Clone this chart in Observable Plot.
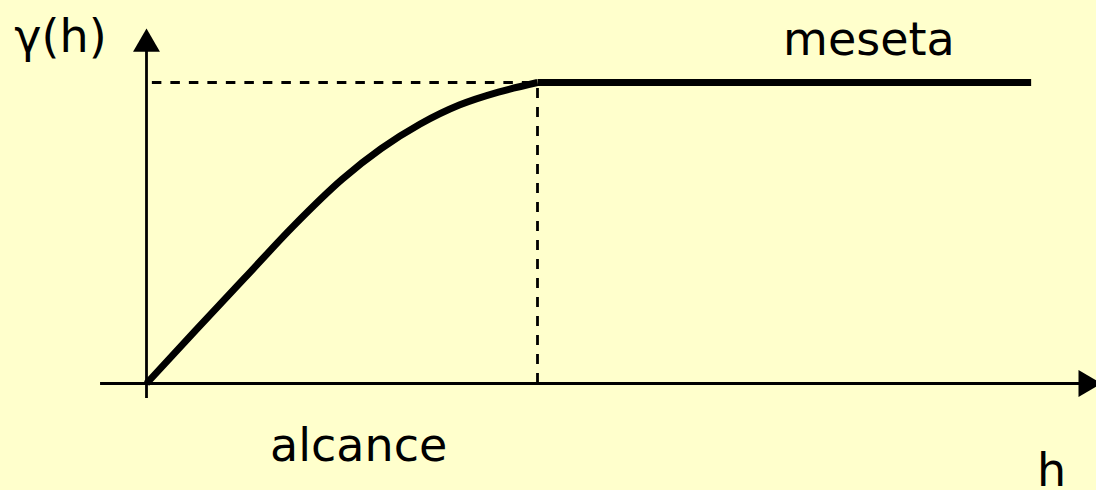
<!DOCTYPE html>
<html>
<head>
<meta charset="utf-8">
<script src="https://cdn.jsdelivr.net/npm/d3@7"></script>
<script src="https://cdn.jsdelivr.net/npm/@observablehq/plot@0.6"></script>
<style>
  html, body { margin: 0; padding: 0; background: #FFFFCC; }
  #chart { width: 1096px; height: 490px; overflow: hidden; }
</style>
</head>
<body>
<div id="chart"></div>
<script>
// Variogram curve (lag h, semivariance γ)
const lag = [0, 0.5, 1, 1.5, 2, 2.4, 2.8, 3.2, 3.6, 4, 9.05];
const gamma = [0, 0.176, 0.349, 0.522, 0.678, 0.78, 0.862, 0.925, 0.968, 1, 1];
const range = 4;     // alcance
const sill = 1;      // meseta
const labels = ["γ(h)", "meseta", "alcance", "h"];

const curve = lag.map((h, i) => ({h, g: gamma[i]}));
const rising = curve.filter(d => d.h <= range);
const plateau = curve.filter(d => d.h >= range);
const font = "DejaVu Sans, sans-serif";

const chart = Plot.plot({
  width: 1096,
  height: 490,
  margin: 0,
  style: {background: "#FFFFCC", fontFamily: font, overflow: "hidden"},
  x: {domain: [0, range], range: [146, 537], axis: null},
  y: {domain: [0, sill], range: [383, 82], axis: null},
  marks: [
    // axes
    Plot.ruleY([0], {x1: -0.47, x2: 9.55, stroke: "black", strokeWidth: 3}),
    Plot.ruleX([0], {y1: -0.05, y2: 1.11, stroke: "black", strokeWidth: 2.8}),
    Plot.dot([{h: 0, g: 1.128}], {x: "h", y: "g", symbol: "triangle", r: 10, fill: "black", stroke: "none"}),
    Plot.dot([{h: 9.614, g: 0}], {x: "h", y: "g", symbol: "triangle", r: 10, rotate: 90, fill: "black", stroke: "none"}),
    // dashed guides
    Plot.ruleY([sill], {x1: 0.06, x2: range, stroke: "black", strokeWidth: 2.8, strokeDasharray: "9.5,9"}),
    Plot.ruleX([range], {y1: 0, y2: sill, stroke: "black", strokeWidth: 2.8, strokeDasharray: "10,9"}),
    // variogram
    Plot.line(rising, {x: "h", y: "g", curve: "monotone-x", stroke: "black", strokeWidth: 7, strokeLinecap: "butt", strokeLinejoin: "round"}),
    Plot.line(plateau, {x: "h", y: "g", stroke: "black", strokeWidth: 7, strokeLinecap: "butt"}),
    // labels
    Plot.text([labels[0]], {x: -0.88, y: 1.10, text: d => d, fontSize: 46, lineAnchor: "bottom", fill: "black"}),
    Plot.text([labels[1]], {x: 7.39, y: 1.09, text: d => d, fontSize: 46, lineAnchor: "bottom", fill: "black"}),
    Plot.text([labels[2]], {x: 2.17, y: -0.256, text: d => d, fontSize: 46, lineAnchor: "bottom", fill: "black"}),
    Plot.text([labels[3]], {x: 9.26, y: -0.342, text: d => d, fontSize: 46, lineAnchor: "bottom", fill: "black"})
  ]
});
document.getElementById("chart").append(chart);
</script>
</body>
</html>
